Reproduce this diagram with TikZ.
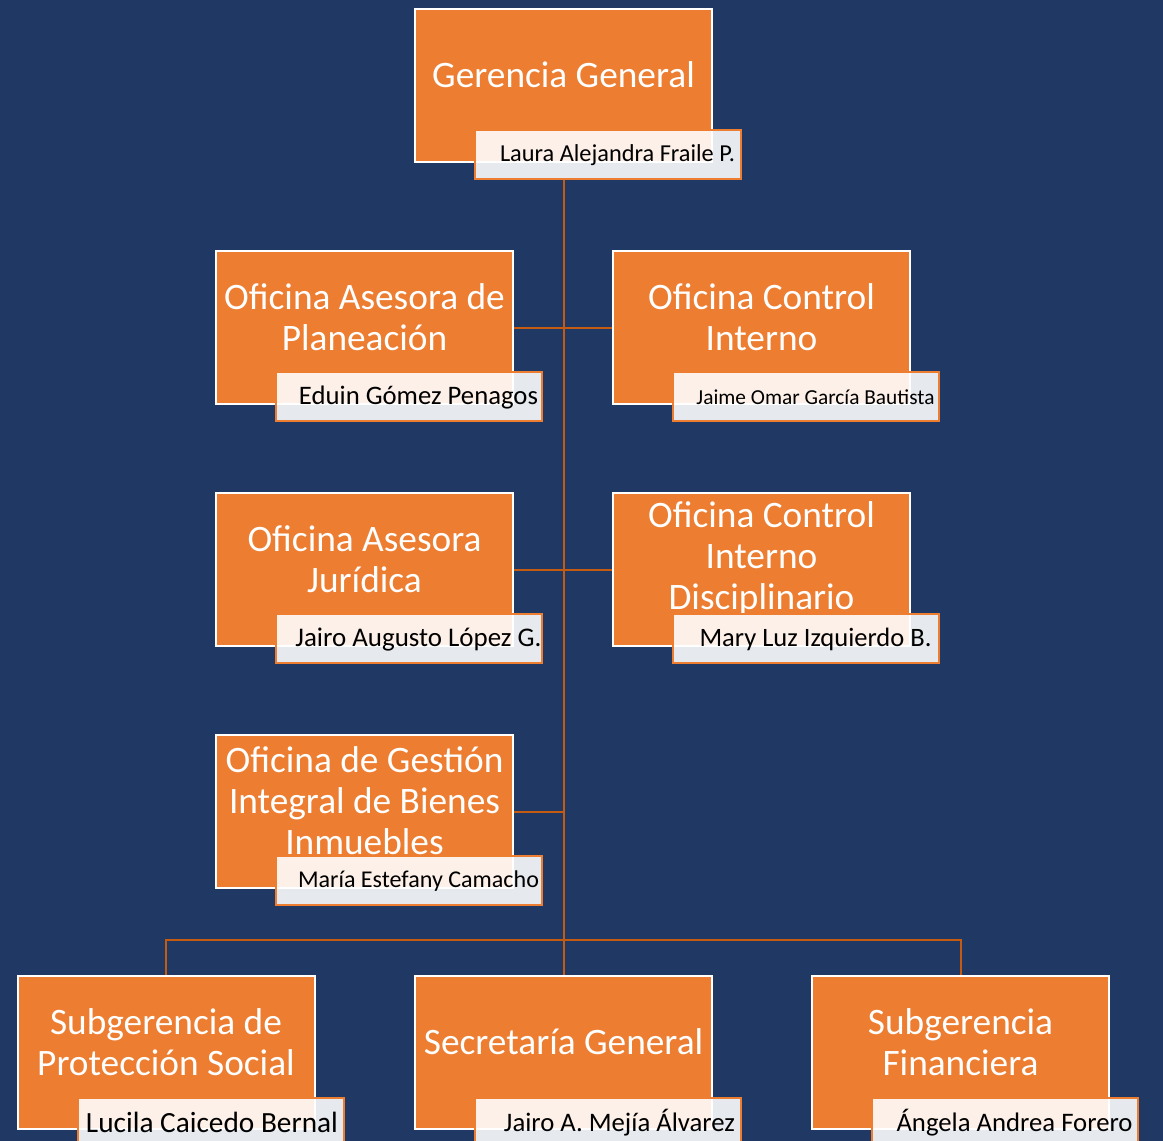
\documentclass[tikz,border=0pt]{standalone}
\usepackage{fontspec}
\usepackage{graphicx}
\setmainfont{Carlito}
\usetikzlibrary{calc,backgrounds}

\definecolor{fondo}{HTML}{203864}
\definecolor{naranja}{HTML}{ED7D31}
\definecolor{enlace}{HTML}{C55A11}

\newlength{\pix}
\setlength{\pix}{0.75pt}
\newcommand{\ajusta}[2]{\resizebox{#1\pix}{!}{#2}}

\begin{document}
\begin{tikzpicture}[x=0.75pt,y=-0.75pt,
  every node/.style={inner sep=0pt},
  unidad/.style={draw=white,line width=1.5pt,fill=naranja,minimum width=222.75pt,minimum height=114.75pt},
  nombre/.style={draw=naranja,line width=1.5pt,fill=white,fill opacity=0.89,minimum width=199.5pt,minimum height=36.75pt},
  titulo/.style={text=white,align=center,font=\fontsize{28}{30.75}\selectfont},
  persona/.style={text=black},
  conector/.style={draw=enlace,line width=1.5pt}
]

\useasboundingbox (0,0) rectangle (1163,1141);

% gerencia
\node[unidad] (gg) at (563.5,85.5) {};
\node[titulo] at ($(gg)+(0,-10.5)$) {Gerencia General};
\node[nombre] (gg-n) at ($(gg)+(44.5,69)$) {};
\node[persona] at ($(gg-n)+(9.5,1)$) {\ajusta{235}{Laura Alejandra Fraile P.}};

% oficinas asesoras
\node[unidad] (plan) at (364.5,327.5) {};
\node[titulo] at ($(plan)+(0,-10.5)$) {Oficina Asesora de\\Planeación};
\node[nombre] (plan-n) at ($(plan)+(44.5,69)$) {};
\node[persona] at ($(plan-n)+(9.5,1)$) {\ajusta{239}{Eduin Gómez Penagos}};

\node[unidad] (ci) at (761.5,327.5) {};
\node[titulo] at ($(ci)+(0,-10.5)$) {Oficina Control\\Interno};
\node[nombre] (ci-n) at ($(ci)+(44.5,69)$) {};
\node[persona] at ($(ci-n)+(9.5,1)$) {\ajusta{238}{Jaime Omar García Bautista}};

\node[unidad] (jur) at (364.5,569.5) {};
\node[titulo] at ($(jur)+(0,-10.5)$) {Oficina Asesora\\Jurídica};
\node[nombre] (jur-n) at ($(jur)+(44.5,69)$) {};
\node[persona] at ($(jur-n)+(9.5,1)$) {\ajusta{246}{Jairo Augusto López G.}};

\node[unidad] (cid) at (761.5,569.5) {};
\node[titulo] at ($(cid)+(0,-10.5)$) {Oficina Control\\Interno\\Disciplinario};
\node[nombre] (cid-n) at ($(cid)+(44.5,69)$) {};
\node[persona] at ($(cid-n)+(9.5,1)$) {\ajusta{232}{Mary Luz Izquierdo B.}};

\node[unidad] (gest) at (364.5,811.5) {};
\node[titulo] at ($(gest)+(0,-10.5)$) {Oficina de Gestión\\Integral de Bienes\\Inmuebles};
\node[nombre] (gest-n) at ($(gest)+(44.5,69)$) {};
\node[persona] at ($(gest-n)+(9.5,1)$) {\ajusta{241}{María Estefany Camacho}};

% subgerencias
\node[unidad] (sub) at (166,1052.5) {};
\node[titulo] at ($(sub)+(0,-10.5)$) {Subgerencia de\\Protección Social};
\node[nombre] (sub-n) at ($(sub)+(44.5,70)$) {};
\node[persona] at ($(sub-n)+(1.5,0)$) {\ajusta{252}{Lucila Caicedo Bernal}};

\node[unidad] (sec) at (563.5,1052.5) {};
\node[titulo] at ($(sec)+(0,-10.5)$) {Secretaría General};
\node[nombre] (sec-n) at ($(sec)+(44.5,70)$) {};
\node[persona] at ($(sec-n)+(11.5,0)$) {\ajusta{231}{Jairo A. Mejía Álvarez}};

\node[unidad] (fin) at (960.5,1052.5) {};
\node[titulo] at ($(fin)+(0,-10.5)$) {Subgerencia\\Financiera};
\node[nombre] (fin-n) at ($(fin)+(44.5,70)$) {};
\node[persona] at ($(fin-n)+(9.5,0)$) {\ajusta{236}{Ángela Andrea Forero}};

\begin{scope}[on background layer]
\fill[fondo] (0,0) rectangle (1163,1141);
\draw[conector] (gg-n.south -| gg) -- (sec.north);
\draw[conector] (plan.east) -- (ci.west);
\draw[conector] (jur.east) -- (cid.west);
\draw[conector] (gest.east) -- (gest.east -| gg);
\coordinate (bus) at ($(sec.north)+(0,-35)$);
\draw[conector] (sub.north) |- (bus) -| (fin.north);
\end{scope}
\end{tikzpicture}
\end{document}
